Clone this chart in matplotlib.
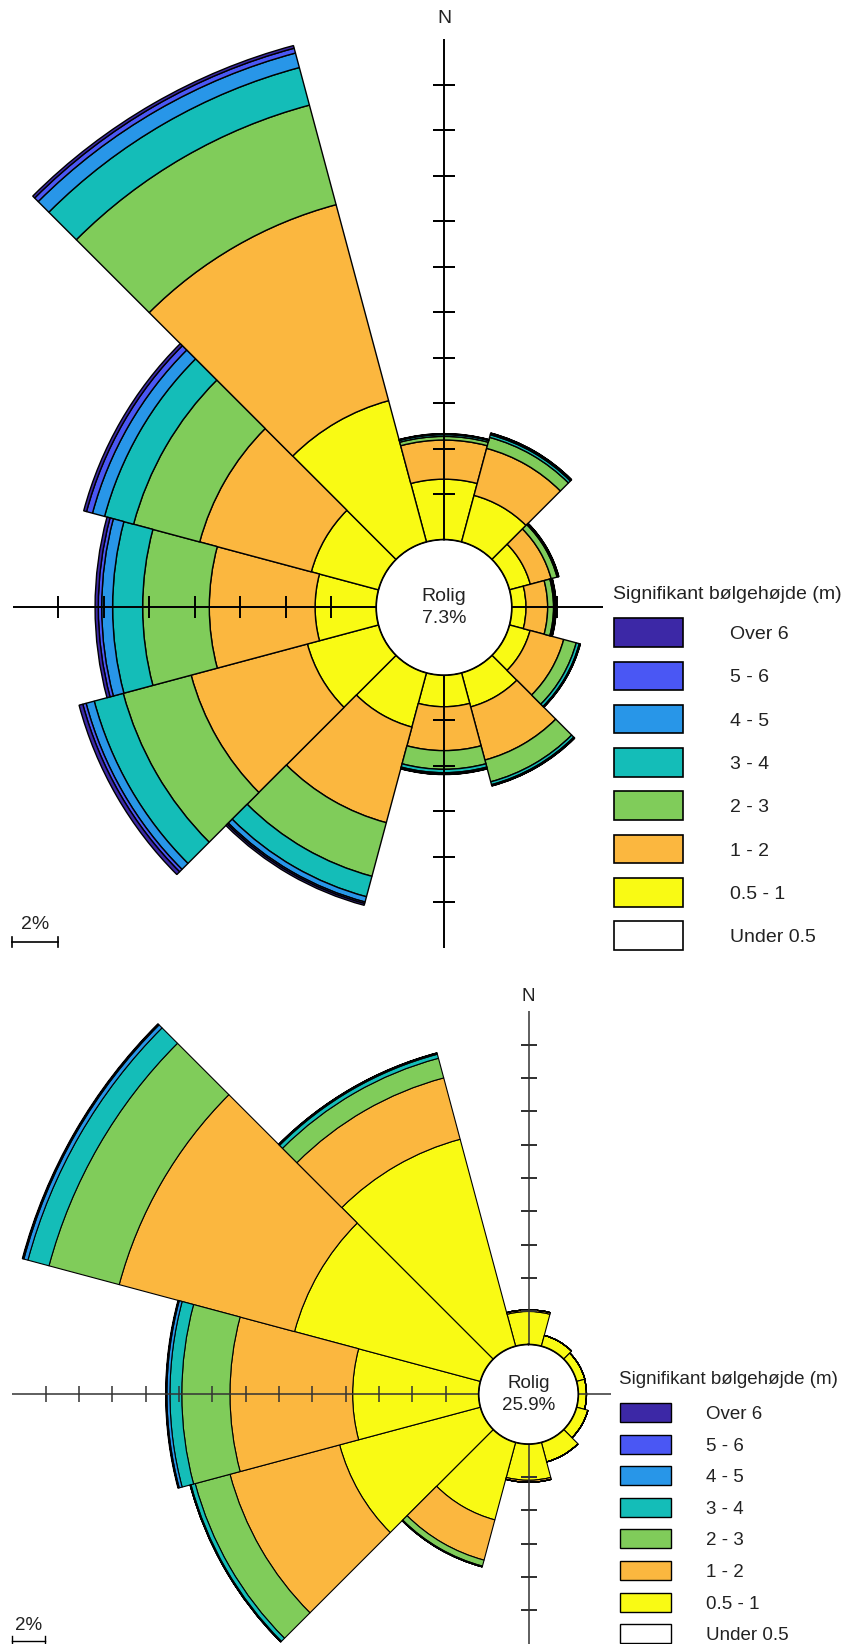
import numpy as np
import matplotlib
matplotlib.use("Agg")
import matplotlib.pyplot as plt
from matplotlib.patches import Rectangle
from matplotlib.lines import Line2D

plt.rcParams['font.family'] = ['Liberation Sans', 'DejaVu Sans']

W, H = 847, 1644

# sectors, clockwise from north
directions = [0, 30, 60, 90, 120, 150, 180, 210, 240, 270, 300, 330]

band_labels = ["Under 0.5", "0.5 - 1", "1 - 2", "2 - 3", "3 - 4", "4 - 5", "5 - 6", "Over 6"]
band_colors = ["#ffffff", "#f9fa14", "#fbb73f", "#80cc5a", "#14bdb8", "#2896e8", "#4a57f4", "#3c28a6"]

# frequency (%) per height band, top rose
top_under = [0, 0, 0, 0, 0, 0, 0, 0, 0, 0, 0, 0]
top_05_1 = [2.67, 2.13, 0.96, 0.64, 0.95, 1.56, 1.40, 2.48, 3.25, 2.70, 3.07, 6.44]
top_1_2 = [1.72, 2.14, 0.95, 0.95, 1.53, 2.42, 1.93, 4.35, 5.29, 4.65, 5.08, 8.92]
top_2_3 = [0.16, 0.50, 0.27, 0.26, 0.57, 0.99, 0.82, 2.44, 3.09, 2.93, 3.01, 4.53]
top_3_4 = [0.08, 0.12, 0.04, 0.06, 0.14, 0.13, 0.15, 0.93, 1.32, 1.32, 1.32, 1.71]
top_4_5 = [0.02, 0.05, 0.02, 0.03, 0.03, 0.04, 0.05, 0.24, 0.37, 0.48, 0.55, 0.66]
top_5_6 = [0.01, 0.02, 0.01, 0.01, 0.01, 0.01, 0.02, 0.07, 0.15, 0.15, 0.27, 0.22]
top_over6 = [0.01, 0.01, 0.01, 0.01, 0.01, 0.01, 0.01, 0.08, 0.17, 0.14, 0.13, 0.12]
top_calm = "7.3%"

# frequency (%) per height band, bottom rose
bot_under = [0, 0, 0, 0, 0, 0, 0, 0, 0, 0, 0, 0]
bot_05_1 = [2.00, 0.69, 0.53, 0.51, 0.72, 1.23, 2.19, 4.83, 8.76, 7.58, 11.56, 12.87]
bot_1_2 = [0.10, 0, 0, 0, 0, 0, 0.12, 2.50, 6.81, 7.36, 10.89, 3.81]
bot_2_3 = [0, 0, 0, 0, 0, 0, 0, 0.37, 2.16, 2.89, 4.36, 1.22]
bot_3_4 = [0, 0, 0, 0, 0, 0, 0, 0.04, 0.26, 0.71, 1.31, 0.25]
bot_4_5 = [0, 0, 0, 0, 0, 0, 0, 0.01, 0.05, 0.18, 0.25, 0.06]
bot_5_6 = [0, 0, 0, 0, 0, 0, 0, 0, 0.01, 0.05, 0.06, 0.02]
bot_over6 = [0, 0, 0, 0, 0, 0, 0, 0, 0, 0.03, 0.04, 0.01]
bot_calm = "25.9%"

top_bands = [top_under, top_05_1, top_1_2, top_2_3, top_3_4, top_4_5, top_5_6, top_over6]
bot_bands = [bot_under, bot_05_1, bot_1_2, bot_2_3, bot_3_4, bot_4_5, bot_5_6, bot_over6]

fig = plt.figure(figsize=(W / 100, H / 100), dpi=100)


def draw_rose(bands, calm, cx, cy, px_per_pct, hole_px, rmax, extents,
              edge_lw, axis_lw, tick_ms, axis_color, fs):
    hole = hole_px / px_per_pct
    R = (rmax + hole) * px_per_pct
    ax = fig.add_axes([(cx - R) / W, 1 - (cy + R) / H, 2 * R / W, 2 * R / H],
                      projection="polar")
    ax.set_theta_zero_location("N")
    ax.set_theta_direction(-1)
    ax.set_ylim(0, rmax)
    ax.set_rorigin(-hole)
    ax.grid(False)
    ax.set_xticks([])
    ax.set_yticks([])
    for sp in ax.spines.values():
        sp.set_visible(False)
    ax.patch.set_alpha(0)

    theta = np.radians(directions)
    bottom = np.zeros(len(directions))
    for vals, col in zip(bands, band_colors):
        vals = np.array(vals, dtype=float)
        if vals.sum() == 0:
            continue
        ax.bar(theta, vals, width=np.radians(30), bottom=bottom, color=col,
               edgecolor="black", linewidth=edge_lw, zorder=2)
        bottom += vals

    # cross with tick marks
    for ang, ext in zip([0, 90, 180, 270], extents):
        t = np.radians(ang)
        ax.plot([t, t], [0, ext], color=axis_color, lw=axis_lw, zorder=3,
                solid_capstyle="butt")
        ticks = np.arange(2, ext - 0.5, 2)
        mk = "_" if ang in (0, 180) else "|"
        ax.plot(np.full(len(ticks), t), ticks, ls="none", marker=mk,
                ms=tick_ms, mew=axis_lw, color=axis_color, zorder=3)

    # calm circle
    circ = np.linspace(0, 2 * np.pi, 400)
    ax.plot(circ, np.zeros_like(circ), color="black", lw=1.7, zorder=4)
    ax.text(0, -hole, "Rolig\n" + calm, ha="center", va="center",
            fontsize=fs, color="#222222", linespacing=1.35, zorder=5)
    ax.text(0, extents[0] + 0.9, "N", ha="center", va="center",
            fontsize=fs, color="#222222")
    return ax


def scale_bar(x0, y, length, text_y, fs, lw):
    fig.add_artist(Line2D([x0 / W, (x0 + length) / W], [1 - y / H, 1 - y / H],
                          color="black", lw=lw))
    for xx in (x0, x0 + length):
        fig.add_artist(Line2D([xx / W, xx / W], [1 - (y - 5) / H, 1 - (y + 5) / H],
                              color="black", lw=lw))
    fig.text((x0 + length / 2) / W, 1 - text_y / H, "2%", ha="center",
             va="center", fontsize=fs, color="#222222")


def legend(x_box, box_w, box_h, y_first, pitch, x_label, title_xy, fs, lw):
    fig.text(title_xy[0] / W, 1 - title_xy[1] / H, "Signifikant bølgehøjde (m)",
             ha="left", va="center", fontsize=fs, color="#222222")
    for i, (lab, col) in enumerate(zip(band_labels[::-1], band_colors[::-1])):
        yc = y_first + i * pitch
        fig.add_artist(Rectangle((x_box / W, 1 - (yc + box_h / 2) / H),
                                 box_w / W, box_h / H, transform=fig.transFigure,
                                 facecolor=col, edgecolor="black", lw=lw))
        fig.text(x_label / W, 1 - (yc + 2) / H, lab, ha="left", va="center",
                 fontsize=fs, color="#222222")


# top rose
draw_rose(top_bands, top_calm, cx=444, cy=607.4, px_per_pct=22.75, hole_px=67.5,
          rmax=23, extents=[22, 4, 12, 16], edge_lw=1.0, axis_lw=1.4,
          tick_ms=16, axis_color="black", fs=14)
scale_bar(12, 942, 2 * 22.75, 924, 14, 1.2)
legend(614, 69, 28.5, 632.5, 43.3, 730, (613, 594), 14, 1.2)

# bottom rose
draw_rose(bot_bands, bot_calm, cx=528.5, cy=1394.3, px_per_pct=16.67, hole_px=49.5,
          rmax=29, extents=[20, 2, 12, 28], edge_lw=0.8, axis_lw=1.1,
          tick_ms=12, axis_color="#333333", fs=13.5)
scale_bar(12, 1640.5, 2 * 16.67, 1625, 13.5, 1.0)
legend(620, 51, 19, 1412.5, 31.6, 706, (619, 1379), 13.5, 1.0)

fig.savefig("out.png", dpi=100)
